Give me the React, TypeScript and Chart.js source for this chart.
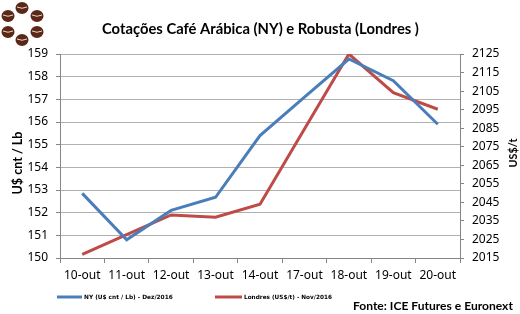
import React, { useEffect, useRef } from "react";
import { Chart, registerables } from "chart.js";

Chart.register(...registerables);

const categories = ["10-out", "11-out", "12-out", "13-out", "14-out", "17-out", "18-out", "19-out", "20-out"];
const nyValues = [152.85, 150.8, 152.1, 152.68, 155.4, 157.1, 158.78, 157.82, 155.9];
const londresValues = [2017, 2027.6, 2038.2, 2037, 2044, 2084.6, 2125, 2104.2, 2095.2];
const nyLabel = "NY (U$ cnt / Lb) - Dez/2016";
const londresLabel = "Londres (US$/t) - Nov/2016";
const titleText = "Cotações Café Arábica (NY) e Robusta (Londres )";
const leftTitle = "U$ cnt / Lb";
const rightTitle = "US$/t";
const sourceText = "Fonte: ICE Futures e Euronext";

const BLUE = "#4a7ebb";
const RED = "#be4b48";

function fitFont(ctx: CanvasRenderingContext2D, text: string, weight: string, family: string, width: number) {
  let size = 20;
  ctx.font = `${weight} ${size}px ${family}`;
  const w = ctx.measureText(text).width;
  size = (size * width) / w;
  ctx.font = `${weight} ${size}px ${family}`;
}

const decorPlugin = {
  id: "decor",
  afterDraw(chart: any) {
    const ctx: CanvasRenderingContext2D = chart.ctx;
    ctx.save();
    // logo beans
    const beans = [
      [22, 8], [8, 16], [37, 16], [8, 32], [37, 32], [22, 40],
    ];
    beans.forEach(([x, y]) => {
      ctx.fillStyle = "#5b2716";
      ctx.beginPath();
      ctx.ellipse(x, y, 6.5, 6, 0, 0, Math.PI * 2);
      ctx.fill();
      ctx.strokeStyle = "#e8d8cc";
      ctx.lineWidth = 1;
      ctx.beginPath();
      ctx.moveTo(x - 5, y - 1);
      ctx.quadraticCurveTo(x, y + 1.5, x + 5, y - 1);
      ctx.stroke();
    });

    ctx.fillStyle = "#000";
    ctx.textBaseline = "middle";
    // title
    fitFont(ctx, titleText, "bold", "Lato, 'Open Sans', sans-serif", 317);
    ctx.textAlign = "left";
    ctx.fillText(titleText, 102, 29);

    // axis titles
    ctx.save();
    ctx.translate(17.5, 163);
    ctx.rotate(-Math.PI / 2);
    ctx.textAlign = "center";
    fitFont(ctx, leftTitle, "bold", "Lato, 'Open Sans', sans-serif", 63);
    ctx.fillText(leftTitle, 0, 0);
    ctx.restore();

    ctx.save();
    ctx.translate(514, 153);
    ctx.rotate(-Math.PI / 2);
    ctx.textAlign = "center";
    fitFont(ctx, rightTitle, "bold", "Lato, 'Open Sans', sans-serif", 29);
    ctx.fillText(rightTitle, 0, 0);
    ctx.restore();

    // legend
    ctx.lineWidth = 3;
    ctx.strokeStyle = BLUE;
    ctx.beginPath();
    ctx.moveTo(57, 297);
    ctx.lineTo(82, 297);
    ctx.stroke();
    ctx.strokeStyle = RED;
    ctx.beginPath();
    ctx.moveTo(215, 297);
    ctx.lineTo(242, 297);
    ctx.stroke();
    ctx.fillStyle = "#000";
    ctx.textAlign = "left";
    fitFont(ctx, nyLabel, "bold", "'DejaVu Sans', sans-serif", 89);
    ctx.fillText(nyLabel, 84, 297);
    fitFont(ctx, londresLabel, "bold", "'DejaVu Sans', sans-serif", 88);
    ctx.fillText(londresLabel, 244, 297);

    // source
    fitFont(ctx, sourceText, "bold", "Lato, 'Open Sans', sans-serif", 160);
    ctx.fillText(sourceText, 353, 306);
    ctx.restore();
  },
};

export default function App() {
  const ref = useRef<HTMLCanvasElement>(null);
  useEffect(() => {
    if (!ref.current) return;
    const tickFont = { family: "'Noto Sans', sans-serif", size: 12 };
    const chart = new Chart(ref.current, {
      type: "line",
      data: {
        labels: categories,
        datasets: [
          { label: nyLabel, data: nyValues, borderColor: BLUE, backgroundColor: BLUE, borderWidth: 3, pointRadius: 0, yAxisID: "y", tension: 0 },
          { label: londresLabel, data: londresValues, borderColor: RED, backgroundColor: RED, borderWidth: 3, pointRadius: 0, yAxisID: "y1", tension: 0 },
        ],
      },
      options: {
        animation: false,
        responsive: false,
        maintainAspectRatio: false,
        layout: { padding: { top: 54, left: 0, right: 0, bottom: 0 } },
        plugins: { legend: { display: false }, title: { display: false }, tooltip: { enabled: false } },
        scales: {
          x: {
            offset: true,
            grid: { offset: true, drawOnChartArea: false, drawTicks: true, tickLength: 5, color: "#868686" },
            border: { color: "#868686" },
            ticks: { color: "#000", font: tickFont, padding: 5, maxRotation: 0, autoSkip: false },
            afterFit: (s: any) => { s.height = 56; },
          },
          y: {
            position: "left",
            min: 150,
            max: 159,
            ticks: { stepSize: 1, color: "#000", font: tickFont, padding: 8, callback: (v: any) => String(v) },
            grid: { color: "#b0b0b0", tickColor: "#868686", tickLength: 4 },
            border: { color: "#868686" },
            afterFit: (s: any) => { s.width = 60; },
          },
          y1: {
            position: "right",
            min: 2015,
            max: 2125,
            ticks: { stepSize: 10, color: "#000", font: tickFont, padding: 8, callback: (v: any) => String(v) },
            grid: { drawOnChartArea: false, color: "#868686", tickLength: 4 },
            border: { color: "#868686" },
            afterFit: (s: any) => { s.width = 60; },
          },
        },
      },
      plugins: [decorPlugin],
    });
    return () => chart.destroy();
  }, []);
  return (
    <div style={{ position: "fixed", left: 0, top: 0, width: 520, height: 314, background: "#fff" }}>
      <canvas ref={ref} width={520} height={314} style={{ width: 520, height: 314 }} />
    </div>
  );
}
